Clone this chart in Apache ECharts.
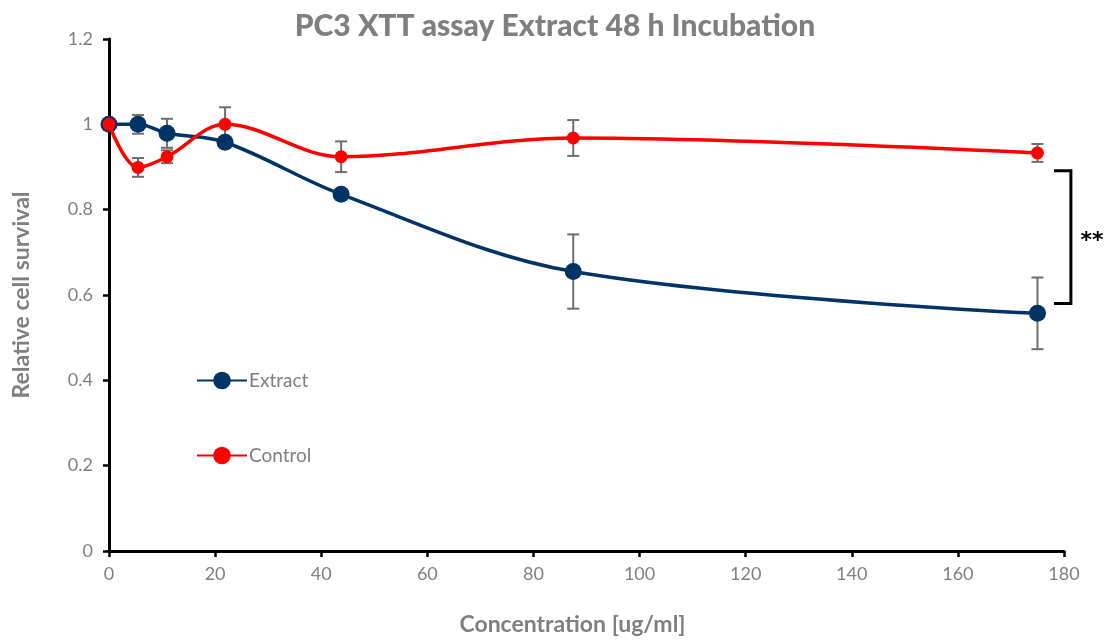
<!DOCTYPE html>
<html>
<head>
<meta charset="utf-8">
<script src="https://cdn.jsdelivr.net/npm/echarts@6/dist/echarts.min.js"></script>
<style>
  html, body { margin: 0; padding: 0; background: #fff; }
  #chart { width: 1110px; height: 643px; }
</style>
</head>
<body>
<div id="chart"></div>
<script>
// Concentrations (ug/ml) of the dilution series
const concentrations = [0, 5.47, 10.94, 21.875, 43.75, 87.5, 175];

// Relative cell survival (mean) and standard deviation
const extractMean = [1.0, 1.0, 0.979, 0.958, 0.836, 0.655, 0.557];
const extractSd   = [0, 0.022, 0.034, 0.01, 0.01, 0.087, 0.084];
const controlMean = [1.0, 0.899, 0.924, 1.0, 0.924, 0.968, 0.933];
const controlSd   = [0, 0.022, 0.015, 0.04, 0.036, 0.042, 0.021];

// Significance bracket between the two series at the top concentration
const bracketX = [178.1, 181.3];
const bracketY = [0.891, 0.580];
const starsPos = [185.3, 0.735];
const starsText = '**';

const grey = '#7f7f7f';
const font = 'Lato, "Open Sans", sans-serif';

function pairs(xs, ys) { return xs.map((x, i) => [x, ys[i]]); }
function errRows(xs, m, sd) { return xs.map((x, i) => [x, m[i] - sd[i], m[i] + sd[i]]); }

function errorBarItem(params, api) {
  const x = api.value(0);
  const lo = api.coord([x, api.value(1)]);
  const hi = api.coord([x, api.value(2)]);
  const w = 6;
  const style = { stroke: '#6e6e6e', lineWidth: 2, fill: null };
  return {
    type: 'group',
    children: [
      { type: 'line', shape: { x1: lo[0], y1: lo[1], x2: hi[0], y2: hi[1] }, style },
      { type: 'line', shape: { x1: hi[0] - w, y1: hi[1], x2: hi[0] + w, y2: hi[1] }, style },
      { type: 'line', shape: { x1: lo[0] - w, y1: lo[1], x2: lo[0] + w, y2: lo[1] }, style }
    ]
  };
}

const chart = echarts.init(document.getElementById('chart'));
chart.setOption({
  animation: false,
  backgroundColor: '#fff',
  title: {
    text: 'PC3 XTT assay Extract 48 h Incubation',
    left: 'center',
    top: 6,
    textStyle: { fontFamily: font, fontWeight: 900, fontSize: 30, color: grey }
  },
  grid: { left: 109, right: 46, top: 39, bottom: 92 },
  legend: {
    data: ['Extract', 'Control'],
    orient: 'vertical',
    left: 191,
    top: 366,
    itemWidth: 50,
    itemHeight: 22,
    itemGap: 56,
    textStyle: { fontFamily: font, fontSize: 19, color: grey, padding: [0, 0, 0, -3] }
  },
  xAxis: {
    type: 'value',
    min: 0, max: 180, interval: 20,
    name: 'Concentration [ug/ml]',
    nameLocation: 'middle',
    nameGap: 62,
    nameTextStyle: { fontFamily: font, fontWeight: 'bold', fontSize: 23, color: grey, padding: [0, 28, 0, 0] },
    axisLine: { lineStyle: { color: '#000', width: 3 } },
    axisTick: { length: 6, lineStyle: { color: '#000', width: 2.5 } },
    axisLabel: { margin: 14, fontFamily: font, fontSize: 18, color: grey },
    splitLine: { show: false }
  },
  yAxis: {
    type: 'value',
    min: 0, max: 1.2, interval: 0.2,
    name: 'Relative cell survival',
    nameLocation: 'middle',
    nameGap: 76,
    nameTextStyle: { fontFamily: font, fontWeight: 'bold', fontSize: 23, color: grey },
    axisLine: { show: true, lineStyle: { color: '#000', width: 3 } },
    axisTick: { show: true, length: 6, lineStyle: { color: '#000', width: 2.5 } },
    axisLabel: { margin: 16, fontFamily: font, fontSize: 18, color: grey },
    splitLine: { show: false }
  },
  series: [
    {
      type: 'custom', name: 'extractErr', z: 1,
      renderItem: errorBarItem,
      data: errRows(concentrations, extractMean, extractSd)
    },
    {
      type: 'custom', name: 'controlErr', z: 1,
      renderItem: errorBarItem,
      data: errRows(concentrations, controlMean, controlSd)
    },
    {
      name: 'Extract', type: 'line', z: 3,
      smooth: 0.35,
      symbol: 'circle', symbolSize: 17,
      color: '#003366',
      lineStyle: { width: 3.5, color: '#003366' },
      itemStyle: { color: '#003366' },
      data: pairs(concentrations, extractMean)
    },
    {
      name: 'Control', type: 'line', z: 4,
      smooth: 0.35,
      symbol: 'circle', symbolSize: 13,
      color: '#ff0000',
      lineStyle: { width: 3.5, color: '#ff0000' },
      itemStyle: { color: '#ff0000' },
      data: pairs(concentrations, controlMean)
    },
    {
      type: 'custom', name: 'significance', z: 5, clip: false,
      renderItem: function (params, api) {
        const tl = api.coord([bracketX[0], bracketY[0]]);
        const tr = api.coord([bracketX[1], bracketY[0]]);
        const br = api.coord([bracketX[1], bracketY[1]]);
        const bl = api.coord([bracketX[0], bracketY[1]]);
        const s = api.coord(starsPos);
        return {
          type: 'group',
          children: [
            { type: 'polyline', shape: { points: [tl, tr, br, bl] },
              style: { stroke: '#000', lineWidth: 3, fill: null } },
            { type: 'text', x: s[0], y: s[1] - 7,
              style: { text: starsText, fontFamily: '"DejaVu Sans", sans-serif', fontSize: 22,
                       fontWeight: 'bold', fill: '#000', align: 'center', verticalAlign: 'top' } }
          ]
        };
      },
      data: [[bracketX[0], bracketY[0]]]
    }
  ]
});
</script>
</body>
</html>
